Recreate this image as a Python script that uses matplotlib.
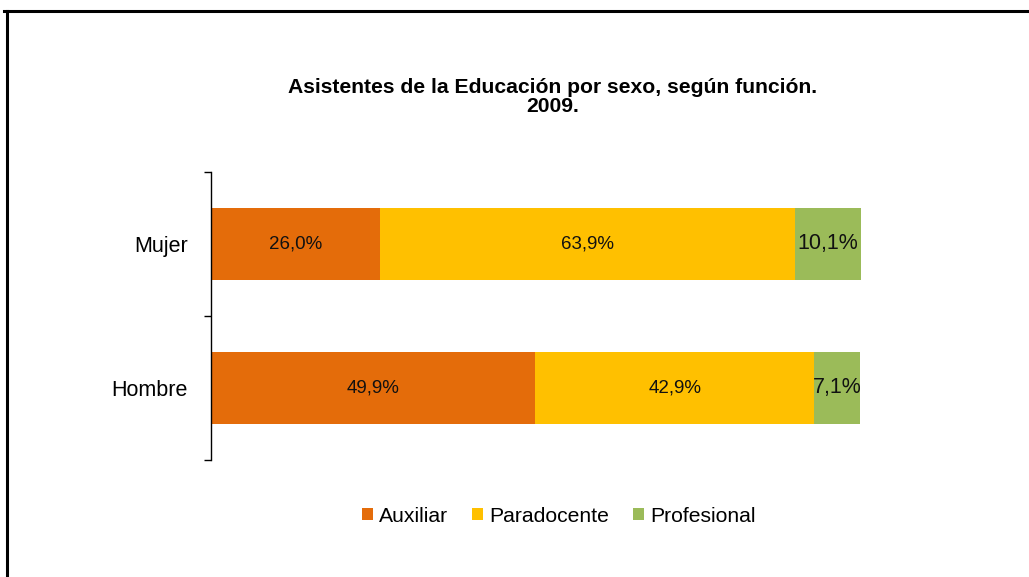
import matplotlib
matplotlib.use("Agg")
import matplotlib.pyplot as plt
from matplotlib.patches import Patch
from matplotlib.lines import Line2D

categories = ["Hombre", "Mujer"]
series_names = ["Auxiliar", "Paradocente", "Profesional"]
auxiliar = [49.9, 26.0]
paradocente = [42.9, 63.9]
profesional = [7.1, 10.1]
labels_aux = ["49,9%", "26,0%"]
labels_par = ["42,9%", "63,9%"]
labels_pro = ["7,1%", "10,1%"]
colors = ["#E46C0A", "#FFC000", "#9BBB59"]

plt.rcParams['font.family'] = ['Liberation Sans', 'DejaVu Sans']

fig = plt.figure(figsize=(10.29, 5.77), dpi=100)
ax = fig.add_axes([211/1029, 1-460/577, 650/1029, 288/577])

ypos = list(range(len(categories)))
series = [auxiliar, paradocente, profesional]
series_labels = [labels_aux, labels_par, labels_pro]
label_sizes = [13.5, 13.5, 15.5]
left = [0.0] * len(categories)
for i, (vals, labs) in enumerate(zip(series, series_labels)):
    ax.barh(ypos, vals, left=left, height=0.5, color=colors[i], edgecolor='none')
    for j, (v, l) in enumerate(zip(vals, labs)):
        ax.text(left[j] + v/2, ypos[j], l, ha='center', va='center',
                fontsize=label_sizes[i], color='#111111')
    left = [a + b for a, b in zip(left, vals)]

ax.set_xlim(0, 100)
ax.set_ylim(-0.5, 1.5)
for s in ['top', 'right', 'bottom']:
    ax.spines[s].set_visible(False)
ax.spines['left'].set_color('black')
ax.spines['left'].set_linewidth(1.0)
ax.set_xticks([])
ax.set_yticks([-0.5, 0.5, 1.5])
ax.set_yticklabels([])
ax.tick_params(axis='y', which='major', length=5, width=1, direction='out')
ax.set_yticks(ypos, minor=True)
ax.set_yticklabels(categories, minor=True, fontsize=15.5)
ax.tick_params(axis='y', which='minor', length=0, pad=16.5)

fig.text(553/1029, 1-87/577, "Asistentes de la Educación por sexo, según función.",
         ha='center', va='center', fontsize=15.2, fontweight='bold')
fig.text(553/1029, 1-107/577, "2009.", ha='center', va='center', fontsize=15.2, fontweight='bold')

handles = [Patch(facecolor=c, edgecolor='none') for c in colors]
fig.legend(handles, series_names, loc='center', bbox_to_anchor=(559/1029, 1-516/577),
           ncol=3, frameon=False, fontsize=15.2, handlelength=0.5, handleheight=0.5,
           handletextpad=0.3, columnspacing=1.15)

# outer frame (top and left edges visible)
fig.add_artist(Line2D([4/1029, 1.0], [1-11/577, 1-11/577], transform=fig.transFigure, color='black', lw=2.2))
fig.add_artist(Line2D([7/1029, 7/1029], [0, 1-11/577], transform=fig.transFigure, color='black', lw=2.2))

fig.savefig("out.png", dpi=100)
